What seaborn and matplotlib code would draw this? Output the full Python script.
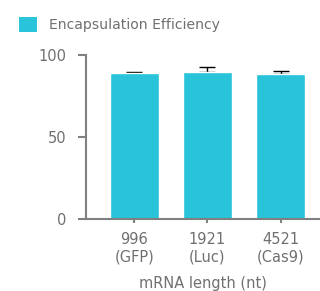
import matplotlib
matplotlib.use("Agg")
import matplotlib.pyplot as plt
import seaborn as sns
import pandas as pd
from matplotlib.patches import Patch

categories = ["996\n(GFP)", "1921\n(Luc)", "4521\n(Cas9)"]
efficiency = [89.0, 89.7, 88.4]
error = [0.6, 3.2, 2.0]
series_name = "Encapsulation Efficiency"
x_label = "mRNA length (nt)"
y_ticks = [0, 50, 100]

bar_color = "#29C3DA"
text_color = "#707070"
axis_color = "#808080"

sns.set_style("white")
plt.rcParams["font.family"] = ["DejaVu Sans"]

df = pd.DataFrame({"mRNA": categories, "EE": efficiency})

fig = plt.figure(figsize=(3.2, 2.91), dpi=100)
ax = fig.add_axes([0.269, 0.2464, 0.731, 0.5646])
sns.barplot(data=df, x="mRNA", y="EE", color=bar_color, saturation=1,
            width=0.67, errorbar=None, ax=ax, zorder=2)
xs = ax.get_xticks()
ax.errorbar(xs, efficiency, yerr=[[0] * len(error), error], fmt="none",
            ecolor="black", elinewidth=1.0, capsize=6, capthick=1.0, zorder=1)

ax.set_ylim(0, 100)
ax.set_xlim(-0.66, 2.54)
ax.set_yticks(y_ticks)
ax.set_xlabel(x_label, color=text_color, fontsize=10.5, labelpad=8)
ax.set_ylabel("")
for s in ["top", "right"]:
    ax.spines[s].set_visible(False)
for s in ["left", "bottom"]:
    ax.spines[s].set_color(axis_color)
    ax.spines[s].set_linewidth(1.5)
ax.tick_params(axis="y", left=True, length=6, width=1.5, color=axis_color,
               labelcolor=text_color, labelsize=10.5, pad=8)
ax.tick_params(axis="x", bottom=True, length=3, width=1.5, color=axis_color,
               labelcolor=text_color, labelsize=10.5, pad=6)
for lab in ax.get_xticklabels():
    lab.set_linespacing(1.25)

handle = Patch(facecolor=bar_color, edgecolor="none", label=series_name)
fig.legend(handles=[handle], loc="upper left", bbox_to_anchor=(0.042, 0.96),
           frameon=False, fontsize=10.1, labelcolor=text_color,
           handlelength=1.25, handleheight=1.25, handletextpad=0.85,
           borderaxespad=0)

fig.savefig("out.png", dpi=100)
